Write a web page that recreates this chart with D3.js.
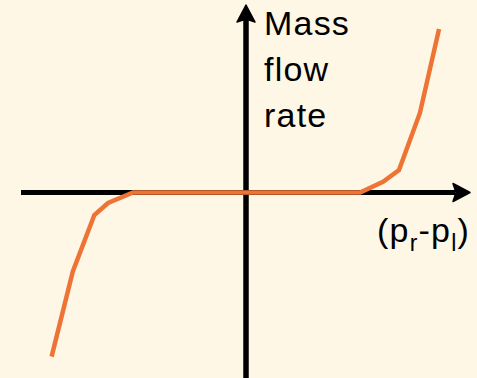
<!DOCTYPE html>
<html><head><meta charset="utf-8">
<script src="https://cdn.jsdelivr.net/npm/d3@7"></script>
<style>html,body{margin:0;padding:0;background:#FEF7E5;}svg{display:block;}</style>
</head><body>
<script>
// Data (arbitrary units)
const pressureDiff = [-8.64, -7.70, -6.74, -6.13, -5.02, 0, 5.07, 6.09, 6.80, 7.73, 8.58];
const massFlow     = [-9.12, -4.40, -1.25, -0.58, 0, 0, 0, 0.60, 1.25, 4.42, 9.08];
const yLabelLines = ["Mass", "flow", "rate"];
const xLabelParts = [["(p", false], ["r", true], ["-p", false], ["l", true], [")", false]];

const W = 477, H = 378;
const svg = d3.select("body").append("svg").attr("width", W).attr("height", H);
svg.append("rect").attr("width", W).attr("height", H).attr("fill", "#FEF7E5");

const x = d3.scaleLinear().domain([-10, 10]).range([21, 471]);
const y = d3.scaleLinear().domain([-10, 10]).range([372.5, 12.5]);

const axisColor = "#000";
const arrowLen = 17, arrowHalf = 9;

// horizontal axis
const hx0 = x(-10), hx1 = x(10) - 1, hy = y(0);
svg.append("line").attr("x1", hx0).attr("x2", hx1 - arrowLen + 2).attr("y1", hy).attr("y2", hy)
  .attr("stroke", axisColor).attr("stroke-width", 5);
svg.append("path")
  .attr("d", `M${hx1},${hy} L${hx1 - arrowLen},${hy - arrowHalf} L${hx1 - arrowLen + 3},${hy} L${hx1 - arrowLen},${hy + arrowHalf} Z`)
  .attr("fill", axisColor).attr("stroke", axisColor).attr("stroke-width", 1.5).attr("stroke-linejoin", "round");

// vertical axis
const vx = x(0), vy0 = H, vy1 = y(10) - 7.5;
svg.append("line").attr("x1", vx).attr("x2", vx).attr("y1", vy0).attr("y2", vy1 + arrowLen - 2)
  .attr("stroke", axisColor).attr("stroke-width", 5.5);
svg.append("path")
  .attr("d", `M${vx},${vy1} L${vx - arrowHalf},${vy1 + arrowLen} L${vx},${vy1 + arrowLen - 3} L${vx + arrowHalf},${vy1 + arrowLen} Z`)
  .attr("fill", axisColor).attr("stroke", axisColor).attr("stroke-width", 1.5).attr("stroke-linejoin", "round");

// curve
const pts = pressureDiff.map((d, i) => [d, massFlow[i]]);
svg.append("path").datum(pts)
  .attr("d", d3.line().x(d => x(d[0])).y(d => y(d[1])))
  .attr("fill", "none").attr("stroke", "#EE7436").attr("stroke-width", 4.5)
  .attr("stroke-linejoin", "miter");

// y label
const font = "'Liberation Sans', Arial, sans-serif";
svg.append("text").attr("font-family", font).attr("font-size", 34).attr("fill", "#000")
  .attr("letter-spacing", 1.2)
  .selectAll("tspan").data(yLabelLines).join("tspan")
  .attr("x", 264).attr("y", (d, i) => 35 + i * 46).text(d => d);

// x label
const xl = svg.append("text").attr("font-family", font).attr("font-size", 34).attr("fill", "#000")
  .attr("letter-spacing", 1.2)
  .attr("x", 470).attr("y", 242).attr("text-anchor", "end");
xLabelParts.forEach(([t, sub], i) => {
  const ts = xl.append("tspan").text(t);
  if (sub) ts.attr("font-size", 23).attr("dy", 9);
  else ts.attr("dy", i > 0 ? -9 : 0);
});
</script>
</body></html>
